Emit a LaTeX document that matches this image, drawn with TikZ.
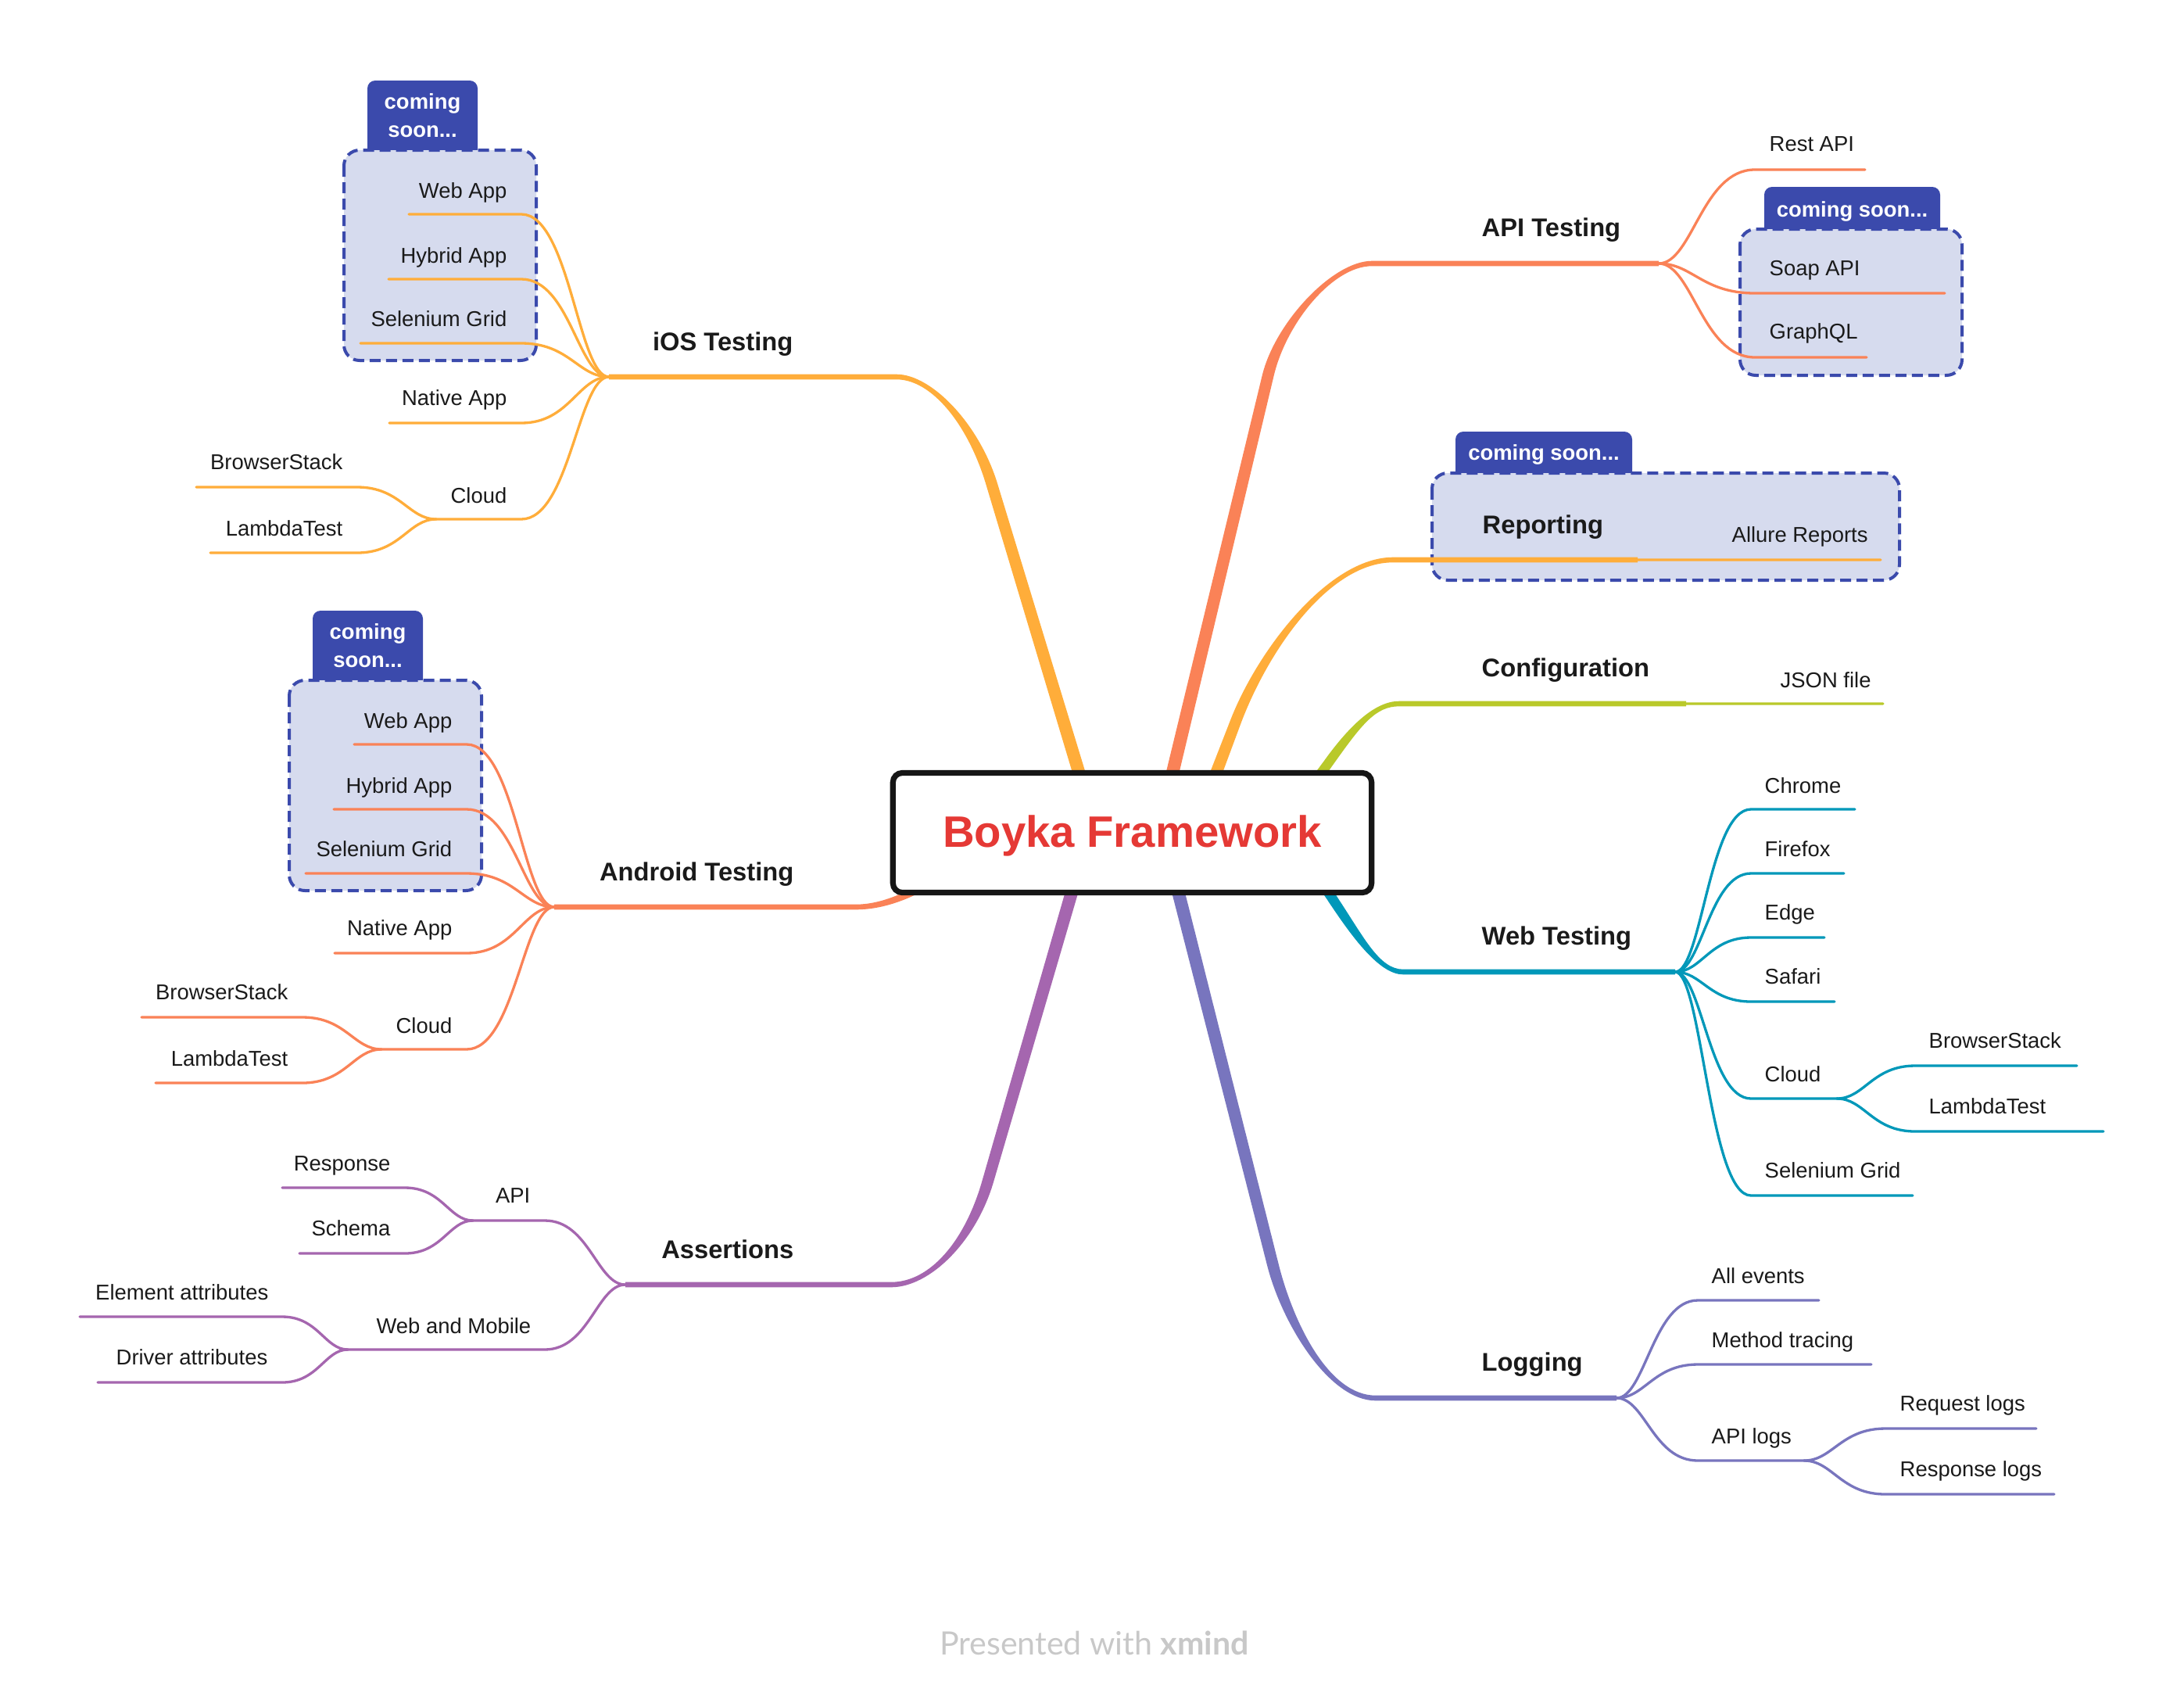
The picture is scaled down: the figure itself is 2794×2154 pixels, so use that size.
\documentclass[tikz,border=0pt]{standalone}
\usepackage{fontspec}
\setmainfont{Liberation Sans}
\newfontfamily\footfont{Lato}
\usetikzlibrary{calc}

\definecolor{cIos}{RGB}{255,173,58}
\definecolor{cApi}{RGB}{250,130,87}
\definecolor{cConf}{RGB}{185,201,42}
\definecolor{cWeb}{RGB}{0,152,185}
\definecolor{cLog}{RGB}{120,117,190}
\definecolor{cAs}{RGB}{165,102,175}
\definecolor{boxBlue}{RGB}{59,74,172}
\definecolor{boxFill}{RGB}{214,219,238}
\definecolor{txt}{RGB}{26,26,26}
\definecolor{rootRed}{RGB}{229,57,53}
\definecolor{rootLine}{RGB}{22,22,22}
\definecolor{footGray}{RGB}{200,200,200}

\tikzset{
  subtxt/.style={inner sep=0pt, text=txt, font=\fontsize{7.8pt}{9pt}\selectfont},
  maintxt/.style={inner sep=0pt, text=txt, font=\fontsize{9.3pt}{11pt}\selectfont\bfseries},
  tabtxt/.style={inner sep=0pt, text=white, align=center, font=\fontsize{7.8pt}{10.2pt}\selectfont\bfseries},
  subline/.style={line width=0.033cm, line cap=round},
  branch/.style={to path={.. controls ($(\tikztostart)!0.35!(\tikztostart -| \tikztotarget)$) and ($(\tikztotarget)!0.55!(\tikztotarget -| \tikztostart)$) .. (\tikztotarget)}},
  groupbox/.style={draw=boxBlue, fill=boxFill, line width=0.04cm, dash pattern=on 0.14cm off 0.07cm, rounded corners=0.2cm},
  tabshape/.style={fill=boxBlue, rounded corners=0.1cm},
}

% tapered main branch: #1 prefix, #2 colour, #3 sx, #4 sy
\newcommand\mainbr[4]{%
  \fill[#2] ($(#1S)+({#3*8.5},0)$) -- ($(#1P)+({#3*7.5},0)$)
    .. controls ($(#1C)+({#3*7.5},0)$) and ($(#1D)+(0,{#4*3.3})$) .. ($(#1E)+(0,{#4*3.3})$)
    -- ($(#1J)+(0,{#4*3.3})$) -- ($(#1J)+(0,{-1*(#4)*3.3})$) -- ($(#1E)+(0,{-1*(#4)*3.3})$)
    .. controls ($(#1D)+(0,{-1*(#4)*3.3})$) and ($(#1C)+({-1*(#3)*7.5},0)$) .. ($(#1P)+({-1*(#3)*7.5},0)$)
    -- ($(#1S)+({-1*(#3)*8.5},0)$) -- cycle;}

\begin{document}
\begin{tikzpicture}[x=0.01cm, y=-0.01cm]
\useasboundingbox (0,0) rectangle (2794,2154);
\fill[white] (0,0) rectangle (2794,2154);

% ---------- group boxes and tabs ----------
\fill[tabshape] (470,103) rectangle (611,205);
\draw[groupbox] (440,192) rectangle (686,461);
\fill[tabshape] (400,781) rectangle (541,883);
\draw[groupbox] (370,870) rectangle (616,1139);
\fill[tabshape] (2257,239) rectangle (2482,305);
\draw[groupbox] (2226,293) rectangle (2510,480);
\fill[tabshape] (1862,552) rectangle (2088,617);
\draw[groupbox] (1832,605) rectangle (2430,742);

% ---------- main branch coordinates ----------
\coordinate (iosS) at (1393,1030); \coordinate (iosP) at (1269,620);
\coordinate (iosC) at (1246,543);  \coordinate (iosD) at (1192,482);
\coordinate (iosE) at (1147,482);  \coordinate (iosJ) at (779,482);

\coordinate (apiS) at (1490,1030); \coordinate (apiP) at (1622,481);
\coordinate (apiC) at (1638,413);  \coordinate (apiD) at (1705,337);
\coordinate (apiE) at (1755,337);  \coordinate (apiJ) at (2122,337);

\coordinate (repS) at (1540,1030); \coordinate (repP) at (1580,925);
\coordinate (repC) at (1615,832);  \coordinate (repD) at (1700,716);
\coordinate (repE) at (1782,716);  \coordinate (repJ) at (2095,716);

\coordinate (confS) at (1660,1030); \coordinate (confP) at (1700,975);
\coordinate (confC) at (1735,926);  \coordinate (confD) at (1760,900);
\coordinate (confE) at (1790,900);  \coordinate (confJ) at (2157,900);

\coordinate (webS) at (1672,1100); \coordinate (webP) at (1705,1150);
\coordinate (webC) at (1738,1200); \coordinate (webD) at (1765,1243);
\coordinate (webE) at (1795,1243); \coordinate (webJ) at (2143,1243);

\coordinate (logS) at (1497,1100); \coordinate (logP) at (1629,1620);
\coordinate (logC) at (1648,1693); \coordinate (logD) at (1700,1788);
\coordinate (logE) at (1760,1788); \coordinate (logJ) at (2068,1788);

\coordinate (asS) at (1383,1100); \coordinate (asP) at (1264,1510);
\coordinate (asC) at (1242,1587); \coordinate (asD) at (1190,1643);
\coordinate (asE) at (1140,1643); \coordinate (asJ) at (800,1643);

\coordinate (andS) at (1290,1070); \coordinate (andP) at (1195,1125);
\coordinate (andC) at (1160,1148); \coordinate (andD) at (1125,1160);
\coordinate (andE) at (1095,1160); \coordinate (andJ) at (709,1160);

% ---------- main branches ----------
\mainbr{ios}{cIos}{-1}{1}
\mainbr{api}{cApi}{1}{1}
\mainbr{rep}{cIos}{1}{1}
\mainbr{conf}{cConf}{1}{1}
\mainbr{web}{cWeb}{1}{-1}
\mainbr{log}{cLog}{1}{-1}
\mainbr{as}{cAs}{-1}{-1}
\fill[cApi] ($(andS)+(0,-7)$) -- ($(andP)+(0,-6)$) .. controls ($(andC)+(0,-5)$) and ($(andD)+(0,-3.3)$) .. ($(andE)+(0,-3.3)$)
  -- ($(andJ)+(0,-3.3)$) -- ($(andJ)+(0,3.3)$) -- ($(andE)+(0,3.3)$)
  .. controls ($(andD)+(0,3.3)$) and ($(andC)+(0,5)$) .. ($(andP)+(0,6)$) -- ($(andS)+(0,7)$) -- cycle;

% ---------- sub branch coordinates ----------
% iOS
\coordinate (iosWebA) at (667,274);  \coordinate (iosWebB) at (523,274);
\coordinate (iosHybA) at (667,357);  \coordinate (iosHybB) at (497,357);
\coordinate (iosSelA) at (667,439);  \coordinate (iosSelB) at (461,439);
\coordinate (iosNatA) at (667,541);  \coordinate (iosNatB) at (498,541);
\coordinate (iosCloA) at (667,664);  \coordinate (iosCloB) at (558,664);
\coordinate (iosBsA) at (457,623);   \coordinate (iosBsB) at (251,623);
\coordinate (iosLtA) at (457,707);   \coordinate (iosLtB) at (269,707);
% Android
\coordinate (andWebA) at (597,952);   \coordinate (andWebB) at (453,952);
\coordinate (andHybA) at (597,1035);  \coordinate (andHybB) at (427,1035);
\coordinate (andSelA) at (597,1117);  \coordinate (andSelB) at (391,1117);
\coordinate (andNatA) at (597,1219);  \coordinate (andNatB) at (428,1219);
\coordinate (andCloA) at (597,1342);  \coordinate (andCloB) at (488,1342);
\coordinate (andBsA) at (387,1301);   \coordinate (andBsB) at (181,1301);
\coordinate (andLtA) at (387,1385);   \coordinate (andLtB) at (199,1385);
% Assertions
\coordinate (asApiA) at (697,1561);   \coordinate (asApiB) at (605,1561);
\coordinate (asResA) at (518,1519);   \coordinate (asResB) at (361,1519);
\coordinate (asSchA) at (518,1603);   \coordinate (asSchB) at (383,1603);
\coordinate (asWmA) at (697,1726);    \coordinate (asWmB) at (445,1726);
\coordinate (asElA) at (361,1684);    \coordinate (asElB) at (102,1684);
\coordinate (asDrA) at (361,1768);    \coordinate (asDrB) at (125,1768);
% API
\coordinate (apiRestA) at (2245,217); \coordinate (apiRestB) at (2386,217);
\coordinate (apiSoapA) at (2245,375); \coordinate (apiSoapB) at (2488,375);
\coordinate (apiGqlA) at (2245,457);  \coordinate (apiGqlB) at (2388,457);
% Reporting, Configuration
\coordinate (repAlA) at (2197,716);   \coordinate (repAlB) at (2406,716);
\coordinate (confJsA) at (2260,900);  \coordinate (confJsB) at (2409,900);
% Web
\coordinate (webChA) at (2240,1035);  \coordinate (webChB) at (2373,1035);
\coordinate (webFfA) at (2240,1117);  \coordinate (webFfB) at (2359,1117);
\coordinate (webEdA) at (2240,1199);  \coordinate (webEdB) at (2334,1199);
\coordinate (webSaA) at (2240,1281);  \coordinate (webSaB) at (2347,1281);
\coordinate (webClA) at (2240,1405);  \coordinate (webClB) at (2350,1405);
\coordinate (webBsA) at (2450,1363);  \coordinate (webBsB) at (2657,1363);
\coordinate (webLtA) at (2450,1447);  \coordinate (webLtB) at (2691,1447);
\coordinate (webSgA) at (2240,1529);  \coordinate (webSgB) at (2447,1529);
% Logging
\coordinate (logAeA) at (2172,1663);  \coordinate (logAeB) at (2327,1663);
\coordinate (logMtA) at (2172,1745);  \coordinate (logMtB) at (2394,1745);
\coordinate (logAlA) at (2172,1868);  \coordinate (logAlB) at (2308,1868);
\coordinate (logRqA) at (2412,1827);  \coordinate (logRqB) at (2605,1827);
\coordinate (logRsA) at (2412,1911);  \coordinate (logRsB) at (2628,1911);

% ---------- sub branches ----------
\begin{scope}[cIos]
\draw[subline] (iosJ) to[branch] (iosWebA) -- (iosWebB);
\draw[subline] (iosJ) to[branch] (iosHybA) -- (iosHybB);
\draw[subline] (iosJ) to[branch] (iosSelA) -- (iosSelB);
\draw[subline] (iosJ) to[branch] (iosNatA) -- (iosNatB);
\draw[subline] (iosJ) to[branch] (iosCloA) -- (iosCloB);
\draw[subline] (iosCloB) to[branch] (iosBsA) -- (iosBsB);
\draw[subline] (iosCloB) to[branch] (iosLtA) -- (iosLtB);
\draw[subline] (repJ) to[branch] (repAlA) -- (repAlB);
\end{scope}
\begin{scope}[cApi]
\draw[subline] (andJ) to[branch] (andWebA) -- (andWebB);
\draw[subline] (andJ) to[branch] (andHybA) -- (andHybB);
\draw[subline] (andJ) to[branch] (andSelA) -- (andSelB);
\draw[subline] (andJ) to[branch] (andNatA) -- (andNatB);
\draw[subline] (andJ) to[branch] (andCloA) -- (andCloB);
\draw[subline] (andCloB) to[branch] (andBsA) -- (andBsB);
\draw[subline] (andCloB) to[branch] (andLtA) -- (andLtB);
\draw[subline] (apiJ) to[branch] (apiRestA) -- (apiRestB);
\draw[subline] (apiJ) to[branch] (apiSoapA) -- (apiSoapB);
\draw[subline] (apiJ) to[branch] (apiGqlA) -- (apiGqlB);
\end{scope}
\begin{scope}[cAs]
\draw[subline] (asJ) to[branch] (asApiA) -- (asApiB);
\draw[subline] (asApiB) to[branch] (asResA) -- (asResB);
\draw[subline] (asApiB) to[branch] (asSchA) -- (asSchB);
\draw[subline] (asJ) to[branch] (asWmA) -- (asWmB);
\draw[subline] (asWmB) to[branch] (asElA) -- (asElB);
\draw[subline] (asWmB) to[branch] (asDrA) -- (asDrB);
\end{scope}
\draw[subline, cConf] (confJ) to[branch] (confJsA) -- (confJsB);
\begin{scope}[cWeb]
\draw[subline] (webJ) to[branch] (webChA) -- (webChB);
\draw[subline] (webJ) to[branch] (webFfA) -- (webFfB);
\draw[subline] (webJ) to[branch] (webEdA) -- (webEdB);
\draw[subline] (webJ) to[branch] (webSaA) -- (webSaB);
\draw[subline] (webJ) to[branch] (webClA) -- (webClB);
\draw[subline] (webClB) to[branch] (webBsA) -- (webBsB);
\draw[subline] (webClB) to[branch] (webLtA) -- (webLtB);
\draw[subline] (webJ) to[branch] (webSgA) -- (webSgB);
\end{scope}
\begin{scope}[cLog]
\draw[subline] (logJ) to[branch] (logAeA) -- (logAeB);
\draw[subline] (logJ) to[branch] (logMtA) -- (logMtB);
\draw[subline] (logJ) to[branch] (logAlA) -- (logAlB);
\draw[subline] (logAlB) to[branch] (logRqA) -- (logRqB);
\draw[subline] (logAlB) to[branch] (logRsA) -- (logRsB);
\end{scope}

% ---------- root ----------
\node[draw=rootLine, fill=white, line width=0.072cm, rounded corners=0.12cm,
      minimum width=6.12cm, minimum height=1.53cm, inner sep=0pt,
      text=rootRed, font=\fontsize{16pt}{19pt}\selectfont\bfseries,
      text height=0.36cm, text depth=0cm] (root) at (1448.5,1065) {Boyka Framework};

% ---------- tab texts ----------
\node[tabtxt] (iosTab) at (540.5,148) {coming\\soon...};
\node[tabtxt] (andTab) at (470.5,826) {coming\\soon...};
\node[tabtxt, anchor=base] (apiTab) at (2369.5,277) {coming soon...};
\node[tabtxt, anchor=base] (repTab) at (1975,588) {coming soon...};

% ---------- main topic texts ----------
\node[maintxt, anchor=base east] (ios) at (1015,448) {iOS Testing};
\node[maintxt, anchor=base east] (android) at (1016,1126) {Android Testing};
\node[maintxt, anchor=base east] (assert) at (1016,1609) {Assertions};
\node[maintxt, anchor=base west] (api) at (1895,302) {API Testing};
\node[maintxt, anchor=base west] (rep) at (1896,682) {Reporting};
\node[maintxt, anchor=base west] (conf) at (1895,865) {Configuration};
\node[maintxt, anchor=base west] (web) at (1895,1208) {Web Testing};
\node[maintxt, anchor=base west] (log) at (1895,1753) {Logging};

% ---------- sub topic texts ----------
\node[subtxt, anchor=base east] (iosWeb) at (649,253) {Web App};
\node[subtxt, anchor=base east] (iosHyb) at (649,336) {Hybrid App};
\node[subtxt, anchor=base east] (iosSel) at (649,417) {Selenium Grid};
\node[subtxt, anchor=base east] (iosNat) at (649,518) {Native App};
\node[subtxt, anchor=base east] (iosClo) at (649,643) {Cloud};
\node[subtxt, anchor=base east] (iosBs) at (439,600) {BrowserStack};
\node[subtxt, anchor=base east] (iosLt) at (439,685) {LambdaTest};

\node[subtxt, anchor=base east] (andWeb) at (579,931) {Web App};
\node[subtxt, anchor=base east] (andHyb) at (579,1014) {Hybrid App};
\node[subtxt, anchor=base east] (andSel) at (579,1095) {Selenium Grid};
\node[subtxt, anchor=base east] (andNat) at (579,1196) {Native App};
\node[subtxt, anchor=base east] (andClo) at (579,1321) {Cloud};
\node[subtxt, anchor=base east] (andBs) at (369,1278) {BrowserStack};
\node[subtxt, anchor=base east] (andLt) at (369,1363) {LambdaTest};

\node[subtxt, anchor=base east] (asApi) at (679,1538) {API};
\node[subtxt, anchor=base east] (asRes) at (500,1497) {Response};
\node[subtxt, anchor=base east] (asSch) at (500,1580) {Schema};
\node[subtxt, anchor=base east] (asWm) at (680,1705) {Web and Mobile};
\node[subtxt, anchor=base east] (asEl) at (344,1662) {Element attributes};
\node[subtxt, anchor=base east] (asDr) at (343,1745) {Driver attributes};

\node[subtxt, anchor=base west] (apiRest) at (2263,193) {Rest API};
\node[subtxt, anchor=base west] (apiSoap) at (2263,352) {Soap API};
\node[subtxt, anchor=base west] (apiGql) at (2263,433) {GraphQL};
\node[subtxt, anchor=base west] (repAl) at (2215,693) {Allure Reports};
\node[subtxt, anchor=base west] (confJs) at (2277,879) {JSON file};

\node[subtxt, anchor=base west] (webCh) at (2257,1014) {Chrome};
\node[subtxt, anchor=base west] (webFf) at (2257,1095) {Firefox};
\node[subtxt, anchor=base west] (webEd) at (2257,1176) {Edge};
\node[subtxt, anchor=base west] (webSa) at (2257,1258) {Safari};
\node[subtxt, anchor=base west] (webCl) at (2257,1383) {Cloud};
\node[subtxt, anchor=base west] (webBs) at (2467,1340) {BrowserStack};
\node[subtxt, anchor=base west] (webLt) at (2467,1424) {LambdaTest};
\node[subtxt, anchor=base west] (webSg) at (2257,1506) {Selenium Grid};

\node[subtxt, anchor=base west] (logAe) at (2189,1641) {All events};
\node[subtxt, anchor=base west] (logMt) at (2189,1723) {Method tracing};
\node[subtxt, anchor=base west] (logAl) at (2189,1846) {API logs};
\node[subtxt, anchor=base west] (logRq) at (2430,1804) {Request logs};
\node[subtxt, anchor=base west] (logRs) at (2430,1888) {Response logs};

% ---------- footer ----------
\node[inner sep=0pt, anchor=base, text=footGray, font=\footfont\fontsize{11.7pt}{13pt}\selectfont] (footer) at (1400,2116) {Presented with \textbf{xmind}};
\end{tikzpicture}
\end{document}
